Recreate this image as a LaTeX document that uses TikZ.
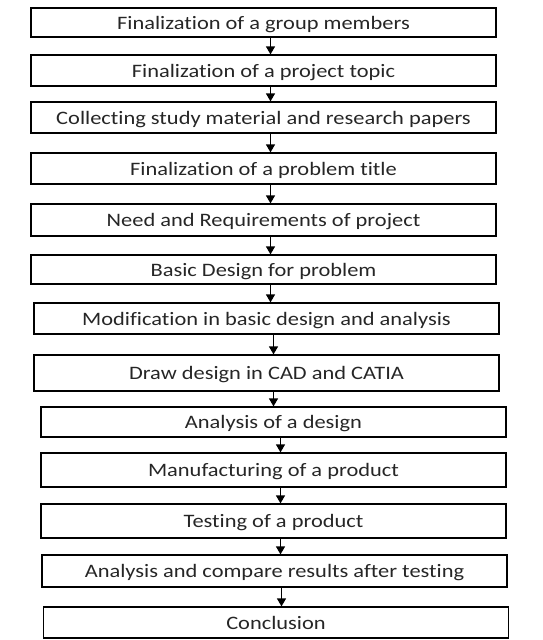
\documentclass[tikz,border=0pt]{standalone}
\usepackage{fontspec}
\setmainfont[FakeStretch=1.18, Ligatures=CommonOff]{Carlito}
\usetikzlibrary{arrows.meta}

\begin{document}
\begin{tikzpicture}[x=1pt,y=-1pt,
    stepbox/.style={draw, line width=1.2pt, inner sep=0pt, minimum width=465pt,
        text depth=0pt, font=\fontsize{19}{21}\selectfont, text=black!85},
    flow/.style={line width=1.2pt, -{Triangle[width=9pt,length=8pt]}}]
    % Fix the frame to the size of the reference
    \useasboundingbox (0,0) rectangle (542,640);

    % Boxes of the flow, from top to bottom
    \node[stepbox, minimum height=29pt] (group) at (263.5,22.5) {Finalization of a group members};
    \node[stepbox, minimum height=31pt] (topic) at (263.5,70.5) {Finalization of a project topic};
    \node[stepbox, minimum height=31pt] (study) at (263.5,117.5) {Collecting study material and research papers};
    \node[stepbox, minimum height=31pt] (title) at (263.5,168.5) {Finalization of a problem title};
    \node[stepbox, minimum height=32pt] (need) at (263.5,220) {Need and Requirements of project};
    \node[stepbox, minimum height=29pt] (basic) at (263.5,269.5) {Basic Design for problem};
    \node[stepbox, minimum height=31pt] (modif) at (266.5,318.5) {Modification in basic design and analysis};
    \node[stepbox, minimum height=36pt] (cad) at (266.5,373) {Draw design in CAD and CATIA};
    \node[stepbox, minimum height=30pt] (anal) at (273.5,422) {Analysis of a design};
    \node[stepbox, minimum height=34pt] (manuf) at (273.5,470) {Manufacturing of a product};
    \node[stepbox, minimum height=34pt] (test) at (273.5,521) {Testing of a product};
    \node[stepbox, minimum height=32pt] (compare) at (274.5,571) {Analysis and compare results after testing};
    \node[stepbox, minimum height=31pt] (concl) at (276,622.5) {Conclusion};

    % Arrows between the boxes, a little right of the centre
    \foreach \a/\b in {group/topic, topic/study, study/title, title/need, need/basic,
        basic/modif, modif/cad, cad/anal, anal/manuf, manuf/test, test/compare, compare/concl}
        \draw[flow] ([xshift=7pt]\a.south) -- ([xshift=7pt]\a.south |- \b.north);

\end{tikzpicture}
\end{document}
